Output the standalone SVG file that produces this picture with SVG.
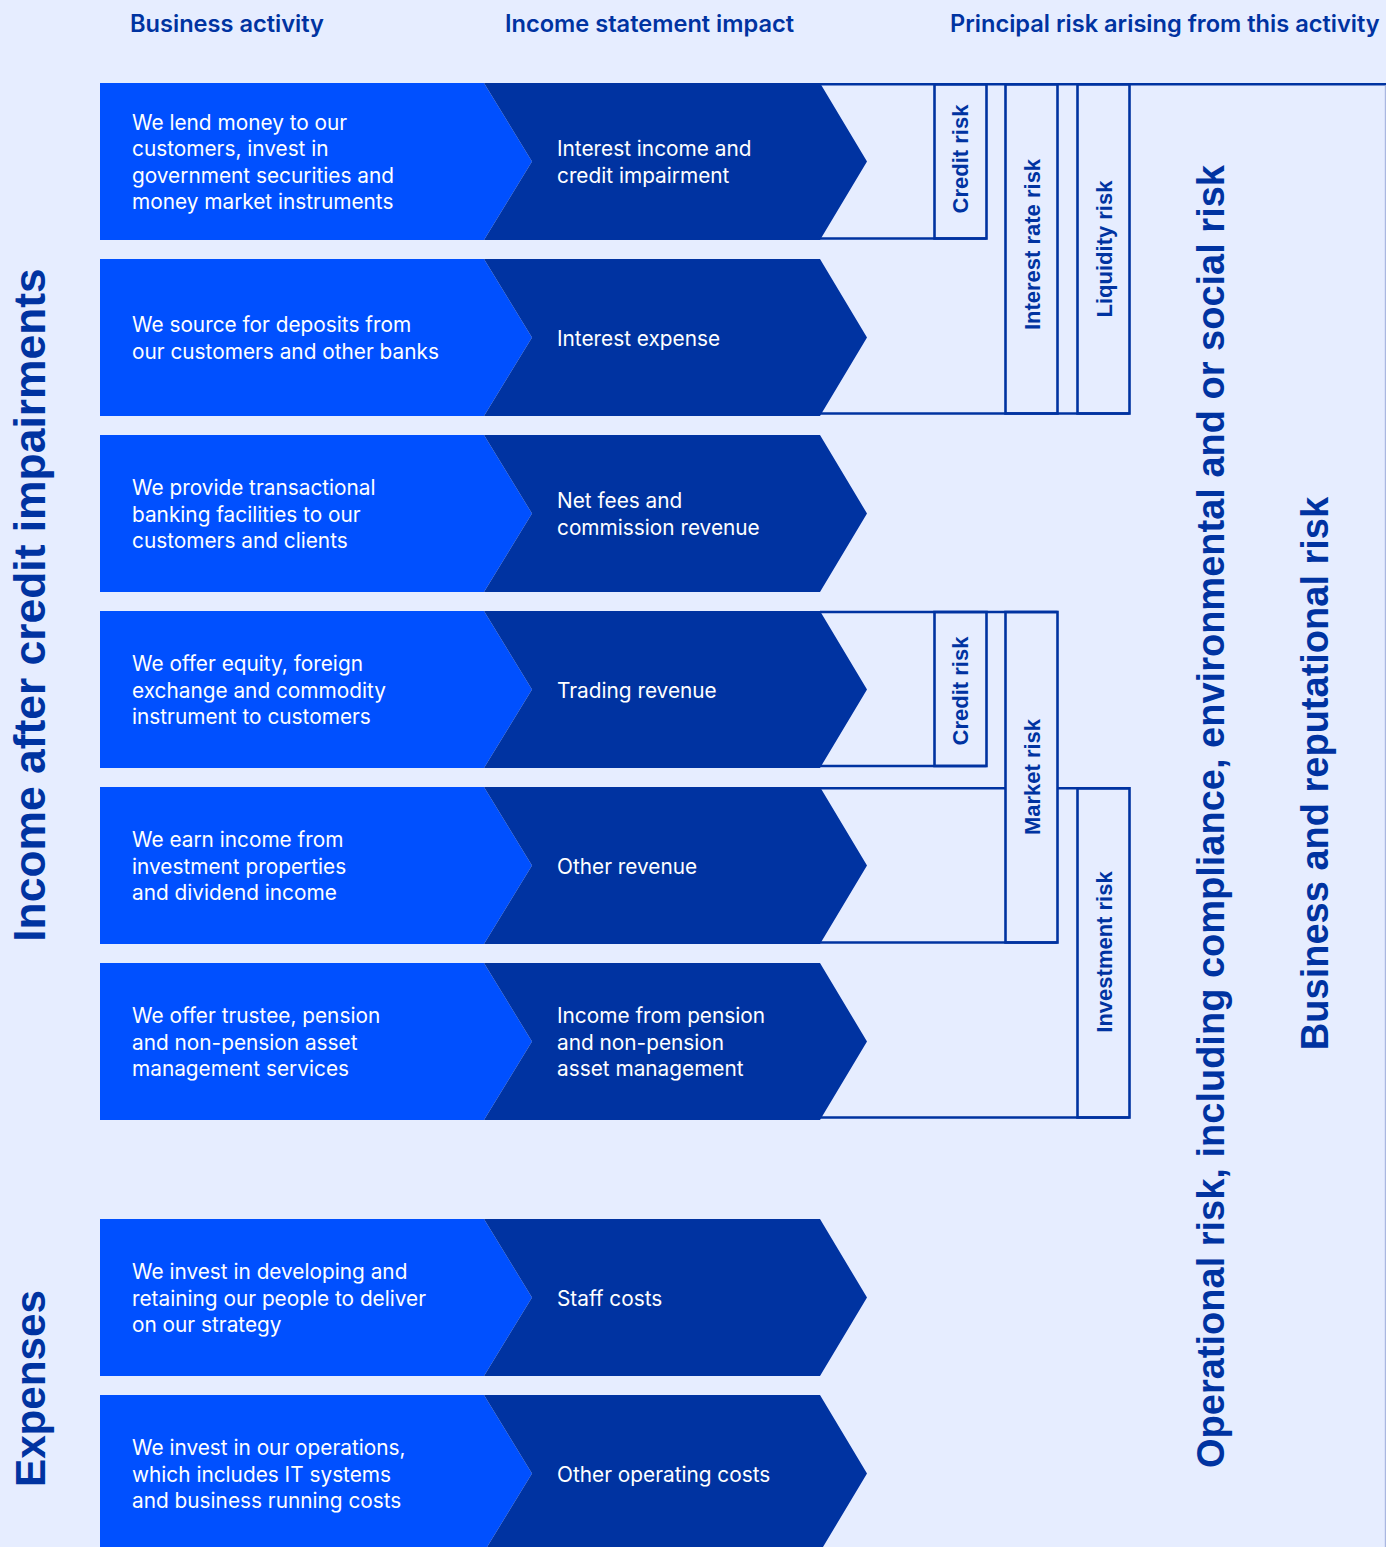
<svg xmlns="http://www.w3.org/2000/svg" width="1386" height="1547" viewBox="0 0 1386 1547">
  <defs>
    <style>
      .bg { fill: #E6EDFF; }
      .act { fill: #0050FF; }
      .imp { fill: #0033A1; }
      .ln { fill: none; stroke: #0033A1; stroke-width: 2.6; }
      .edge { fill: none; stroke: #A9B7E0; stroke-width: 1.2; }
      .hdr { font-family: Inter, "Liberation Sans", sans-serif; font-weight: 600; font-size: 23.6px; fill: #0033A1; }
      .body { font-family: Inter, "Liberation Sans", sans-serif; font-weight: 400; font-size: 20.8px; fill: #FFFFFF; }
      .risk { font-family: "Liberation Sans", Arial, sans-serif; font-weight: 700; font-size: 22px; fill: #0033A1; text-anchor: middle; }
      .big { font-family: "Liberation Sans", Arial, sans-serif; font-weight: 700; fill: #0033A1; text-anchor: middle; }
    </style>
  </defs>

  <rect class="bg" x="0" y="0" width="1386" height="1547"/>

  <!-- column headings -->
  <g id="headings">
    <text class="hdr" x="130" y="32">Business activity</text>
    <text class="hdr" x="505" y="32">Income statement impact</text>
    <text class="hdr" x="950" y="32">Principal risk arising from this activity</text>
  </g>

  <!-- section labels on the left -->
  <g id="section-income">
    <text class="big" font-size="44.4" transform="translate(45,605) rotate(-90)">Income after credit impairments</text>
  </g>
  <g id="section-expenses">
    <text class="big" font-size="42.2" transform="translate(45,1388.5) rotate(-90)">Expenses</text>
  </g>

  <!-- risk brackets -->
  <g id="connectors">
    <!-- outer frame of the principal risk area -->
    <line class="ln" x1="820" y1="84.3" x2="1386" y2="84.3"/>
    <line class="edge" x1="1385.4" y1="85.5" x2="1385.4" y2="1547"/>
    <!-- lending / deposits block -->
    <line class="ln" x1="820" y1="238.5" x2="986.5" y2="238.5"/>
    <line class="ln" x1="820" y1="413.5" x2="1129.5" y2="413.5"/>
    <!-- trading / other revenue / asset management block -->
    <line class="ln" x1="820" y1="612" x2="1057.5" y2="612"/>
    <line class="ln" x1="820" y1="766" x2="986.5" y2="766"/>
    <line class="ln" x1="820" y1="788.3" x2="1005.5" y2="788.3"/>
    <line class="ln" x1="1057.5" y1="788.3" x2="1129.5" y2="788.3"/>
    <line class="ln" x1="820" y1="942.5" x2="1057.5" y2="942.5"/>
    <line class="ln" x1="820" y1="1117.5" x2="1129.5" y2="1117.5"/>
  </g>

  <g id="risk-credit-1">
    <rect class="ln" x="934.5" y="84.3" width="52" height="154.2"/>
    <text class="risk" transform="translate(967.7,159) rotate(-90)">Credit risk</text>
  </g>
  <g id="risk-interest-rate">
    <rect class="ln" x="1005.5" y="84.3" width="52" height="329.2"/>
    <text class="risk" transform="translate(1039.5,244.5) rotate(-90)">Interest rate risk</text>
  </g>
  <g id="risk-liquidity">
    <rect class="ln" x="1077.5" y="84.3" width="52" height="329.2"/>
    <text class="risk" transform="translate(1111.5,249) rotate(-90)">Liquidity risk</text>
  </g>
  <g id="risk-credit-2">
    <rect class="ln" x="934.5" y="612" width="52" height="154"/>
    <text class="risk" transform="translate(967.7,691) rotate(-90)">Credit risk</text>
  </g>
  <g id="risk-market">
    <rect class="ln" x="1005.5" y="612" width="52" height="330.5"/>
    <text class="risk" transform="translate(1039.5,777) rotate(-90)">Market risk</text>
  </g>
  <g id="risk-investment">
    <rect class="ln" x="1077.5" y="788.3" width="52" height="329.2"/>
    <text class="risk" transform="translate(1111.5,952) rotate(-90)">Investment risk</text>
  </g>

  <g id="risk-operational">
    <text class="big" font-size="38" transform="translate(1224,816.5) rotate(-90)">Operational risk, including compliance, environmental and or social risk</text>
  </g>
  <g id="risk-business">
    <text class="big" font-size="38" transform="translate(1328,773.5) rotate(-90)">Business and reputational risk</text>
  </g>

  <!-- activity rows: bright arrow = business activity, dark chevron = income statement line -->
  <g id="row-lending">
    <polygon class="act" points="100,83 484,83 532,161.5 484,240 100,240"/>
    <polygon class="imp" points="484,83 820,83 867,161.5 820,240 484,240 532,161.5"/>
    <text class="body" x="132" y="129.75">We lend money to our</text>
    <text class="body" x="132" y="156.25">customers, invest in</text>
    <text class="body" x="132" y="182.75">government securities and</text>
    <text class="body" x="132" y="209.25">money market instruments</text>
    <text class="body" x="557" y="156.25">Interest income and</text>
    <text class="body" x="557" y="182.75">credit impairment</text>
  </g>

  <g id="row-deposits">
    <polygon class="act" points="100,259 484,259 532,337.5 484,416 100,416"/>
    <polygon class="imp" points="484,259 820,259 867,337.5 820,416 484,416 532,337.5"/>
    <text class="body" x="132" y="332.25">We source for deposits from</text>
    <text class="body" x="132" y="358.75">our customers and other banks</text>
    <text class="body" x="557" y="345.5">Interest expense</text>
  </g>

  <g id="row-transactional">
    <polygon class="act" points="100,435 484,435 532,513.5 484,592 100,592"/>
    <polygon class="imp" points="484,435 820,435 867,513.5 820,592 484,592 532,513.5"/>
    <text class="body" x="132" y="495">We provide transactional</text>
    <text class="body" x="132" y="521.5">banking facilities to our</text>
    <text class="body" x="132" y="548">customers and clients</text>
    <text class="body" x="557" y="508.25">Net fees and</text>
    <text class="body" x="557" y="534.75">commission revenue</text>
  </g>

  <g id="row-trading">
    <polygon class="act" points="100,611 484,611 532,689.5 484,768 100,768"/>
    <polygon class="imp" points="484,611 820,611 867,689.5 820,768 484,768 532,689.5"/>
    <text class="body" x="132" y="671">We offer equity, foreign</text>
    <text class="body" x="132" y="697.5">exchange and commodity</text>
    <text class="body" x="132" y="724">instrument to customers</text>
    <text class="body" x="557" y="697.5">Trading revenue</text>
  </g>

  <g id="row-investment">
    <polygon class="act" points="100,787 484,787 532,865.5 484,944 100,944"/>
    <polygon class="imp" points="484,787 820,787 867,865.5 820,944 484,944 532,865.5"/>
    <text class="body" x="132" y="847">We earn income from</text>
    <text class="body" x="132" y="873.5">investment properties</text>
    <text class="body" x="132" y="900">and dividend income</text>
    <text class="body" x="557" y="873.5">Other revenue</text>
  </g>

  <g id="row-pension">
    <polygon class="act" points="100,963 484,963 532,1041.5 484,1120 100,1120"/>
    <polygon class="imp" points="484,963 820,963 867,1041.5 820,1120 484,1120 532,1041.5"/>
    <text class="body" x="132" y="1023">We offer trustee, pension</text>
    <text class="body" x="132" y="1049.5">and non-pension asset</text>
    <text class="body" x="132" y="1076">management services</text>
    <text class="body" x="557" y="1023">Income from pension</text>
    <text class="body" x="557" y="1049.5">and non-pension</text>
    <text class="body" x="557" y="1076">asset management</text>
  </g>

  <g id="row-staff">
    <polygon class="act" points="100,1219 484,1219 532,1297.5 484,1376 100,1376"/>
    <polygon class="imp" points="484,1219 820,1219 867,1297.5 820,1376 484,1376 532,1297.5"/>
    <text class="body" x="132" y="1279">We invest in developing and</text>
    <text class="body" x="132" y="1305.5">retaining our people to deliver</text>
    <text class="body" x="132" y="1332">on our strategy</text>
    <text class="body" x="557" y="1305.5">Staff costs</text>
  </g>

  <g id="row-operations">
    <polygon class="act" points="100,1395 484,1395 532,1473.5 484,1552 100,1552"/>
    <polygon class="imp" points="484,1395 820,1395 867,1473.5 820,1552 484,1552 532,1473.5"/>
    <text class="body" x="132" y="1455">We invest in our operations,</text>
    <text class="body" x="132" y="1481.5">which includes IT systems</text>
    <text class="body" x="132" y="1508">and business running costs</text>
    <text class="body" x="557" y="1481.5">Other operating costs</text>
  </g>
</svg>
